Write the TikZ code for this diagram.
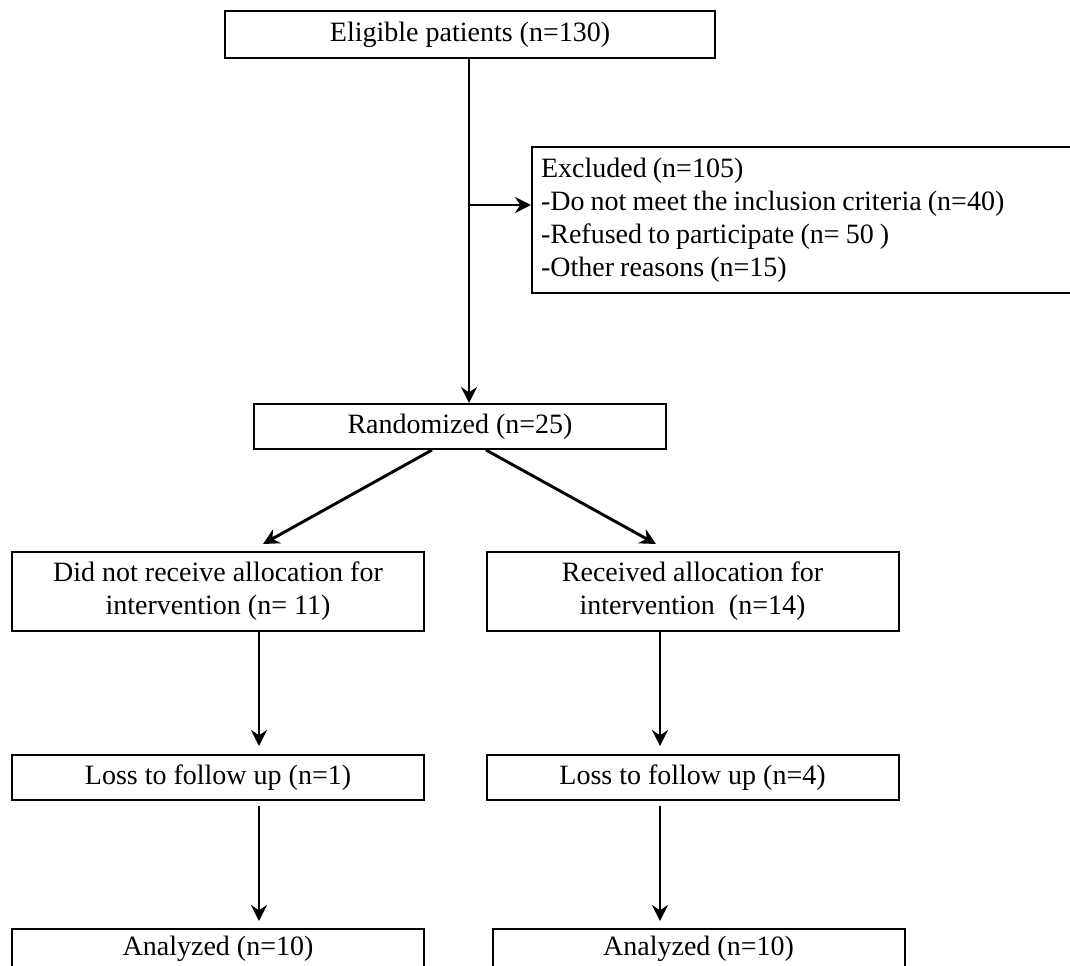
\documentclass[tikz,border=0pt]{standalone}
\usepackage{fontspec}
\setmainfont{Liberation Serif}
\usepackage{tikz}
\usetikzlibrary{arrows.meta,positioning}

\begin{document}
\begin{tikzpicture}[
    x=0.75pt, y=-0.75pt,
    font=\fontsize{21}{24.75}\selectfont,
    box/.style={rectangle, draw, line width=1.5pt, align=center, inner sep=0pt, minimum width=309pt, minimum height=33.75pt},
    arrow/.style={-{Stealth[length=12pt,width=12pt,inset=4pt]}, line width=2.2pt}
]
\clip (0,0) rectangle (1070,966);
\node[box, minimum width=367.5pt, minimum height=35.25pt] (elig) at (470,34.5) {Eligible patients (n=130)};
\node[box, anchor=north west, minimum width=420pt, minimum height=109.5pt, align=left, text width=406.5pt, inner xsep=6.75pt] (excl) at (531,146)
  {\spaceskip=0.22em\relax Excluded (n=105)\\-Do not meet the inclusion criteria (n=40)\\-Refused to participate (n= 50 )\\-Other reasons (n=15)};
\node[box] (rand) at (460,426.5) {Randomized (n=25)};
\node[box, minimum height=59.25pt] (noalloc) at (218,591.5) {Did not receive allocation for\\intervention (n= 11)};
\node[box, minimum height=59.25pt] (alloc) at (692.5,591.5) {Received allocation for\\intervention~~(n=14)};
\node[box, below=91.5pt of noalloc] (noloss) {Loss to follow up (n=1)};
\node[box, below=91.5pt of alloc] (loss) {Loss to follow up (n=4)};
\node[box, minimum height=30pt, below=95.25pt of noloss] (noana) {Analyzed (n=10)};
\node[box, minimum height=30pt, below=95.25pt of loss, xshift=4.5pt] (ana) {Analyzed (n=10)};
% columns of the arrows
\coordinate (split) at (469,205);
\coordinate (lcol) at (259,0);
\coordinate (rcol) at (660,0);
\draw[arrow] ([xshift=-0.75pt]elig.south) -- ([xshift=-0.75pt]elig.south |- rand.north);
\draw[arrow] (split) -- (split -| excl.west);
\draw[arrow] ([xshift=-21pt]rand.south) -- ([xshift=33.75pt,yshift=5.25pt]noalloc.north);
\draw[arrow] ([xshift=19.5pt]rand.south) -- ([xshift=-27.4pt,yshift=5.25pt]alloc.north);
\draw[arrow] (noalloc.south -| lcol) -- ([yshift=6pt]noloss.north -| lcol);
\draw[arrow] (alloc.south -| rcol) -- ([yshift=6pt]loss.north -| rcol);
\draw[arrow] ([yshift=-4pt]noloss.south -| lcol) -- ([yshift=5.25pt]noana.north -| lcol);
\draw[arrow] ([yshift=-4pt]loss.south -| rcol) -- ([yshift=5.25pt]ana.north -| rcol);
\end{tikzpicture}
\end{document}
